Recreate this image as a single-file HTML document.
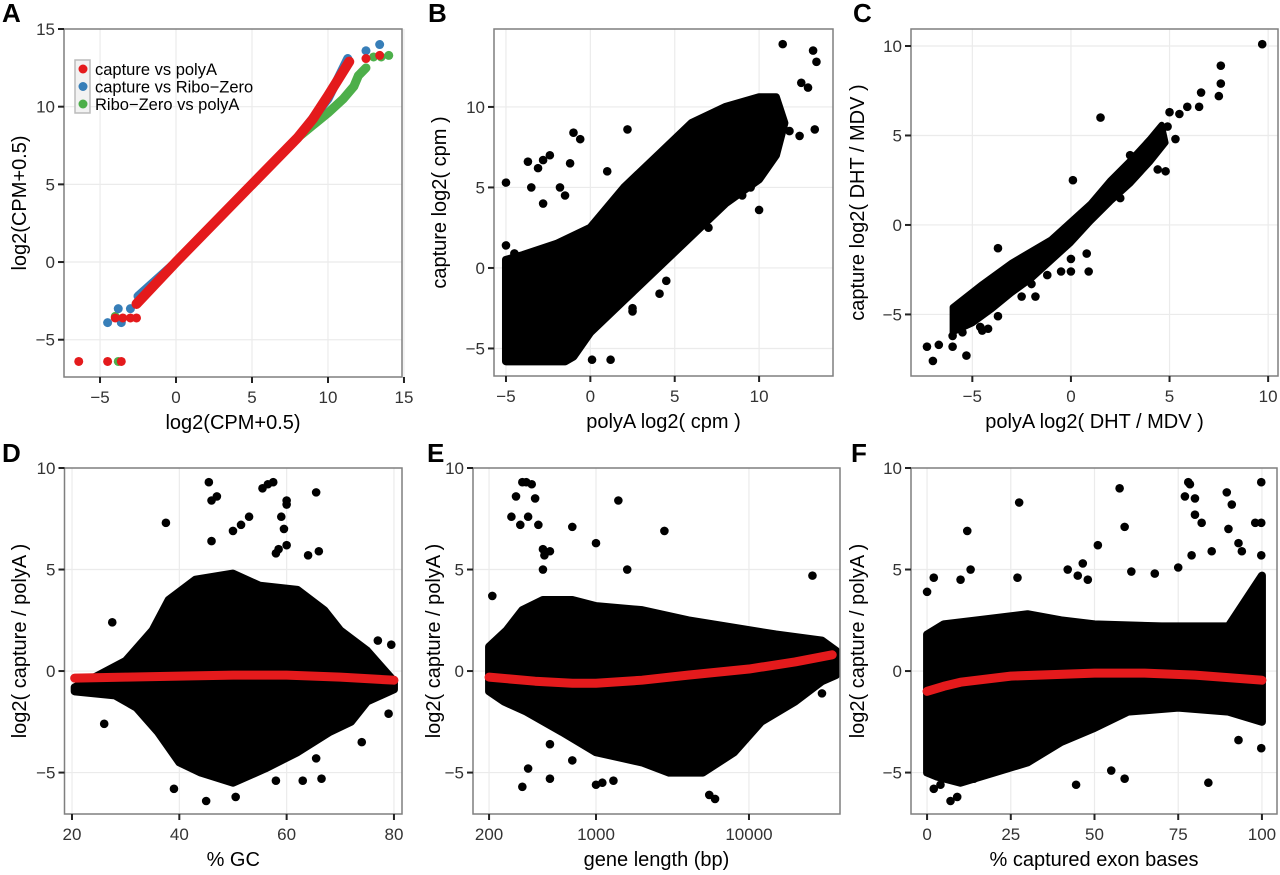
<!DOCTYPE html>
<html><head><meta charset="utf-8"><style>
html,body{margin:0;padding:0;background:#fff;}
svg{display:block;font-family:"Liberation Sans",sans-serif;}
</style></head><body>
<svg id="chart" width="1280" height="875" viewBox="0 0 1280 875" xmlns="http://www.w3.org/2000/svg"></svg>
<script>
// ---------- Panel A data ----------
const aGreenLineX=[-2,0,5,8,9,10,11,11.7,12,12.5];
const aGreenLineY=[-2,0,5,8,8.8,9.6,10.5,11.3,12,12.5];
const aGreenPtX=[-4,-3.8,13,13.5,14];
const aGreenPtY=[-3.5,-6.4,13.2,13.2,13.3];
const aBlueLineX=[-2.5,0,8,10,11.3];
const aBlueLineY=[-2.2,0,8,10.5,13.1];
const aBluePtX=[-4.5,-3.8,-3.6,-3,12.5,13.4];
const aBluePtY=[-3.9,-3,-3.9,-3,13.6,14];
const aRedLineX=[-2.6,0,8,9,10,11.4];
const aRedLineY=[-2.7,0,8,9.2,10.7,12.9];
const aRedPtX=[-6.4,-4.5,-3.6,-4,-3.5,-3,-2.6,-2.6,12.5,13.4];
const aRedPtY=[-6.4,-6.4,-6.4,-3.6,-3.6,-3.6,-3.6,-2.7,13.1,13.3];
const aLegendLabels=["capture vs polyA","capture vs Ribo\u2212Zero","Ribo\u2212Zero vs polyA"];
// ---------- Panel B data ----------
const bCloudX=[-5,-5,-1.5,-1,0,2,5,8,10,11,11.5,11,10,8,6,4,2,0,-2,-4];
const bCloudY=[0.5,-5.8,-5.8,-5.5,-4,-2,1,4,5.5,7,9,10.6,10.6,10,9,7,5,2.5,1.5,0.8];
const bPtX=[11.4,13.2,13.4,12.5,12.9,13.3,12.4,11.8,-5,-3.7,-3.1,-2.8,-2.4,-1,-0.6,2.2,-1.2,-3.5,-1.8,-1.5,-2.8,1,-5,-4.5,0.1,1.2,-0.5,4.1,4.5,2.5,2.5,7,10,9,9.5];
const bPtY=[13.9,13.5,12.8,11.5,11.2,8.6,8.2,8.5,5.3,6.6,6.2,6.7,7,8.4,8,8.6,6.5,5,5,4.5,4,6,1.4,0.9,-5.7,-5.7,-4.5,-1.6,-0.8,-2.5,-2.7,2.5,3.6,4.5,5];
// ---------- Panel C data ----------
const cCloudX=[-6,-4.5,-3,-1,0,1,2,3,4,4.6,4.8,4,3,2,1,0,-1,-2,-3,-4,-5,-6];
const cCloudY=[-4.6,-3.3,-2.1,-0.8,0.2,1.2,2.5,3.6,4.8,5.6,4.6,3.5,2.3,1.3,0.2,-1,-2,-3,-3.8,-4.7,-5.5,-6];
const cPtX=[9.7,7.6,7.6,7.5,6.6,6.5,5.9,1.5,5,5.5,4.9,5.3,3,4.4,4.8,2.5,2.5,0.1,-3.7,0.8,0.9,0,0,-0.5,-1,-2,-1.2,-1.8,-2.5,-3.7,-4.6,-4.2,-4.5,-5.2,-5.7,-5.3,-6.7,-7.3,-7,-6,-6,-5.5,-5.7,-4.3];
const cPtY=[10.1,8.9,7.9,7.2,7.4,6.6,6.6,6,6.3,6.2,5.5,4.8,3.9,3.1,3,2.5,1.5,2.5,-1.3,-1.6,-2.6,-1.9,-2.6,-2.6,-1.2,-3.3,-2.8,-4,-4,-5.1,-5.7,-5.8,-5.9,-4.6,-5.4,-7.3,-6.7,-6.8,-7.6,-6.2,-6.8,-6,-4.5,-4];
// ---------- Panel D data ----------
const dCloudX=[20.5,25,30,35,38,43,50,55,62,67,70,75,80,80,75,72,68,62,56,50,44,40,36,32,28,20.5];
const dCloudY=[-0.8,-0.2,0.5,2,3.5,4.5,4.8,4.2,4,3,2,1,-0.5,-0.9,-1.5,-2.5,-3,-4,-4.8,-5.5,-5,-4.5,-3,-1.8,-1.2,-1];
const dPtX=[45.5,46,47,55.5,56.5,57.5,60,60,65.5,37.5,50,51.5,53,59,59.5,60,58,58.5,64,66,46,27.5,26,79,74,66.5,63,58,45,50.5,39,65.5,77,79.5,76];
const dPtY=[9.3,8.4,8.6,9,9.2,9.3,8.4,8.2,8.8,7.3,6.9,7.2,7.6,7.6,7,6.2,5.8,6,5.7,5.9,6.4,2.4,-2.6,-2.1,-3.5,-5.3,-5.4,-5.4,-6.4,-6.2,-5.8,-4.3,1.5,1.3,0.6];
const dFitX=[20.5,30,40,50,60,70,80];
const dFitY=[-0.35,-0.3,-0.25,-0.2,-0.2,-0.3,-0.45];
// ---------- Panel E data ----------
const eCloudX=[200,200,260,330,450,700,1000,2000,4000,7000,15000,30000,37000,37000,30000,20000,12000,8000,5000,3000,2000,1000,600,350,250];
const eCloudY=[-1,1.2,2,3,3.5,3.5,3.2,3,2.5,2.2,1.8,1.5,1,-0.2,-0.5,-1.5,-2.5,-4,-5,-5,-4.5,-4,-3,-2,-1.5];
const ePtX=[330,350,380,300,280,320,400,420,360,1400,700,2800,1000,450,460,450,500,1600,26000,210,360,500,330,700,1100,1300,5500,6000,1000,30000,500];
const ePtY=[9.3,9.3,9.2,8.6,7.6,7.2,8.5,7.2,7.6,8.4,7.1,6.9,6.3,6,5.7,5,5.9,5,4.7,3.7,-4.8,-5.3,-5.7,-4.4,-5.5,-5.4,-6.1,-6.3,-5.6,-1.1,-3.6];
const eFitX=[200,400,700,1000,2000,4000,10000,20000,35000];
const eFitY=[-0.3,-0.5,-0.6,-0.6,-0.45,-0.2,0.1,0.45,0.8];
// ---------- Panel F data ----------
const fCloudX=[0,0,5,15,30,40,50,70,90,100,100,90,75,60,50,40,30,20,10,3];
const fCloudY=[-5,1.8,2.3,2.5,2.8,2.5,2.3,2.2,2.2,4.7,-2.5,-2,-1.8,-2,-2.8,-3.5,-4.5,-5,-5.5,-5.2];
const fPtX=[0,2,10,12,13,27.5,57.5,59,51,46.5,45,48,42,27,61,68,78,78.5,77,80,80,82,89.5,91,90,99.8,98,99.8,99.8,93,94,85,79,75,44.5,55,59,84,93,99.8,7,9,2,4,14];
const fPtY=[3.9,4.6,4.5,6.9,5,8.3,9,7.1,6.2,5.3,4.7,4.5,5,4.6,4.9,4.8,9.3,9.2,8.6,8.5,7.7,7.3,8.8,8.2,7,9.3,7.3,7.3,5.7,6.3,5.9,5.9,5.7,5.1,-5.6,-4.9,-5.3,-5.5,-3.4,-3.8,-6.4,-6.2,-5.8,-5.6,-5.3];
const fFitX=[0,5,10,25,50,65,80,100];
const fFitY=[-1,-0.75,-0.55,-0.25,-0.1,-0.1,-0.2,-0.45];
// ---------- ticks ----------
const aXTicks=[-5,0,5,10,15], aYTicks=[-5,0,5,10,15];
const bXTicks=[-5,0,5,10], bYTicks=[-5,0,5,10];
const cXTicks=[-5,0,5,10], cYTicks=[-5,0,5,10];
const dXTicks=[20,40,60,80], lowYTicks=[-5,0,5,10];
const eXTicks=[200,1000,10000];
const fXTicks=[0,25,50,75,100];

const NS="http://www.w3.org/2000/svg";
const svg=document.getElementById('chart');
function mk(tag,parent){const e=document.createElementNS(NS,tag);parent.appendChild(e);return e;}
function fmt(v){return v<0?'\u2212'+Math.abs(v):String(v);}

function panel(c){
  const g=mk('g',svg);
  
  
  const tx=v=>{const t=c.xlog?Math.log10(v):v;return c.x0+(t-c.xd[0])/(c.xd[1]-c.xd[0])*(c.x1-c.x0);};
  const ty=v=>c.y1-(v-c.yd[0])/(c.yd[1]-c.yd[0])*(c.y1-c.y0);
  const bg=mk('rect',g);
  
  
  bg.setAttribute('x',c.x0);bg.setAttribute('y',c.y0);bg.setAttribute('width',c.x1-c.x0);bg.setAttribute('height',c.y1-c.y0);bg.setAttribute('fill','#fff');
  c.xt.forEach(v=>{const l=mk('line',g);
    
    
    l.setAttribute('x1',tx(v));l.setAttribute('x2',tx(v));l.setAttribute('y1',c.y0);l.setAttribute('y2',c.y1);l.setAttribute('stroke','#ebebeb');l.setAttribute('stroke-width','1.2');});
  c.yt.forEach(v=>{const l=mk('line',g);
    
    
    l.setAttribute('x1',c.x0);l.setAttribute('x2',c.x1);l.setAttribute('y1',ty(v));l.setAttribute('y2',ty(v));l.setAttribute('stroke','#ebebeb');l.setAttribute('stroke-width','1.2');});
  const pg=mk('g',g);
  
  
  c.draw(pg,tx,ty);
  const br=mk('rect',g);
  
  
  br.setAttribute('x',c.x0);br.setAttribute('y',c.y0);br.setAttribute('width',c.x1-c.x0);br.setAttribute('height',c.y1-c.y0);br.setAttribute('fill','none');br.setAttribute('stroke','#7f7f7f');br.setAttribute('stroke-width','1.5');
  c.xt.forEach(v=>{const l=mk('line',g);
    
    
    l.setAttribute('x1',tx(v));l.setAttribute('x2',tx(v));l.setAttribute('y1',c.y1);l.setAttribute('y2',c.y1+6);l.setAttribute('stroke','#222');l.setAttribute('stroke-width','2');
    const t=mk('text',g);
    
    
    t.setAttribute('x',tx(v));t.setAttribute('y',c.y1+26);t.setAttribute('text-anchor','middle');t.setAttribute('font-size','17');t.setAttribute('fill','#333');t.textContent=fmt(v);});
  c.yt.forEach(v=>{const l=mk('line',g);
    
    
    l.setAttribute('x1',c.x0-6);l.setAttribute('x2',c.x0);l.setAttribute('y1',ty(v));l.setAttribute('y2',ty(v));l.setAttribute('stroke','#222');l.setAttribute('stroke-width','2');
    const t=mk('text',g);
    
    
    t.setAttribute('x',c.x0-9);t.setAttribute('y',ty(v)+6);t.setAttribute('text-anchor','end');t.setAttribute('font-size','17');t.setAttribute('fill','#333');t.textContent=fmt(v);});
  const xtl=mk('text',g);
  
  
  xtl.setAttribute('x',(c.x0+c.x1)/2);xtl.setAttribute('y',c.y1+52);xtl.setAttribute('text-anchor','middle');xtl.setAttribute('font-size','20');xtl.textContent=c.xtitle;
  const ytl=mk('text',g);
  
  
  const yc=(c.y0+c.y1)/2;
  ytl.setAttribute('x',c.ytx);ytl.setAttribute('y',yc);ytl.setAttribute('text-anchor','middle');ytl.setAttribute('font-size','20');ytl.setAttribute('transform','rotate(-90 '+c.ytx+' '+yc+')');ytl.textContent=c.ytitle;
  const lt=mk('text',g);
  
  
  lt.setAttribute('x',c.lx);lt.setAttribute('y',c.ly);lt.setAttribute('font-size','26');lt.setAttribute('font-weight','bold');lt.textContent=c.letter;
}
function dots(g,xs,ys,tx,ty,col,r,name){xs.forEach((x,i)=>{const d=mk('circle',g);
  
  
  d.setAttribute('cx',tx(x));d.setAttribute('cy',ty(ys[i]));d.setAttribute('r',r);d.setAttribute('fill',col);});}
function line(g,xs,ys,tx,ty,col,w,name){const p=mk('polyline',g);
  
  
  p.setAttribute('points',xs.map((x,i)=>tx(x)+','+ty(ys[i])).join(' '));p.setAttribute('fill','none');p.setAttribute('stroke',col);p.setAttribute('stroke-width',w);p.setAttribute('stroke-linecap','round');p.setAttribute('stroke-linejoin','round');}
function cloud(g,xs,ys,tx,ty,name,sw){const p=mk('polygon',g);
  
  
  p.setAttribute('points',xs.map((x,i)=>tx(x)+','+ty(ys[i])).join(' '));p.setAttribute('fill','#000');p.setAttribute('stroke','#000');p.setAttribute('stroke-width',sw||8);p.setAttribute('stroke-linejoin','round');}
const RED='#e41a1c',BLUE='#377eb8',GREEN='#4daf4a';
const LOWY=[-7.04,10];

panel({name:'panel-a',x0:64,x1:402,y0:29,y1:377,xd:[-7.37,14.87],yd:[-7.4,15],xt:aXTicks,yt:aYTicks,
  xtitle:'log2(CPM+0.5)',ytitle:'log2(CPM+0.5)',ytx:26,letter:'A',lx:2,ly:22,
  draw:(g,tx,ty)=>{
    line(g,aGreenLineX,aGreenLineY,tx,ty,GREEN,9,'green-series-line');dots(g,aGreenPtX,aGreenPtY,tx,ty,GREEN,4.5,'green-point');
    line(g,aBlueLineX,aBlueLineY,tx,ty,BLUE,9,'blue-series-line');dots(g,aBluePtX,aBluePtY,tx,ty,BLUE,4.5,'blue-point');
    line(g,aRedLineX,aRedLineY,tx,ty,RED,10,'red-series-line');dots(g,aRedPtX,aRedPtY,tx,ty,RED,4.5,'red-point');
    const lg=mk('g',g);
    
    
    const box=mk('rect',lg);
    
    
    box.setAttribute('x',75);box.setAttribute('y',60);box.setAttribute('width',15);box.setAttribute('height',53);box.setAttribute('fill','#f2f2f2');box.setAttribute('stroke','#bbb');box.setAttribute('stroke-width','1.5');
    [RED,BLUE,GREEN].forEach((col,i)=>{const d=mk('circle',lg);
      
      
      d.setAttribute('cx',83);d.setAttribute('cy',69+i*17.5);d.setAttribute('r',4.5);d.setAttribute('fill',col);
      const t=mk('text',lg);
      
      
      t.setAttribute('x',95);t.setAttribute('y',75+i*17.5);t.setAttribute('font-size','16.5');t.textContent=aLegendLabels[i];});
  }});
panel({name:'panel-b',x0:494,x1:833,y0:29,y1:376,xd:[-5.71,14.38],yd:[-6.71,14.84],xt:bXTicks,yt:bYTicks,
  xtitle:'polyA log2( cpm )',ytitle:'capture log2( cpm )',ytx:446,letter:'B',lx:428,ly:22,
  draw:(g,tx,ty)=>{cloud(g,bCloudX,bCloudY,tx,ty,'scatter-cloud');dots(g,bPtX,bPtY,tx,ty,'#000',4.3,'scatter-point');}});
panel({name:'panel-c',x0:911,x1:1278,y0:29,y1:376,xd:[-8.11,10.5],yd:[-8.44,10.95],xt:cXTicks,yt:cYTicks,
  xtitle:'polyA log2( DHT / MDV )',ytitle:'capture log2( DHT / MDV )',ytx:864,letter:'C',lx:853,ly:22,
  draw:(g,tx,ty)=>{cloud(g,cCloudX,cCloudY,tx,ty,'scatter-cloud',6);dots(g,cPtX,cPtY,tx,ty,'#000',4.3,'scatter-point');}});
panel({name:'panel-d',x0:64.5,x1:402,y0:468,y1:814,xd:[18.6,81.5],yd:LOWY,xt:dXTicks,yt:lowYTicks,
  xtitle:'% GC',ytitle:'log2( capture / polyA )',ytx:26,letter:'D',lx:2,ly:462,
  draw:(g,tx,ty)=>{cloud(g,dCloudX,dCloudY,tx,ty,'scatter-cloud');dots(g,dPtX,dPtY,tx,ty,'#000',4.3,'scatter-point');line(g,dFitX,dFitY,tx,ty,RED,9,'loess-fit');}});
panel({name:'panel-e',x0:473,x1:840,y0:468,y1:814,xlog:true,xd:[2.196,4.595],yd:LOWY,xt:eXTicks,yt:lowYTicks,
  xtitle:'gene length (bp)',ytitle:'log2( capture / polyA )',ytx:440,letter:'E',lx:427,ly:462,
  draw:(g,tx,ty)=>{cloud(g,eCloudX,eCloudY,tx,ty,'scatter-cloud');dots(g,ePtX,ePtY,tx,ty,'#000',4.3,'scatter-point');line(g,eFitX,eFitY,tx,ty,RED,9,'loess-fit');}});
panel({name:'panel-f',x0:911,x1:1277,y0:468,y1:814,xd:[-4.8,104.5],yd:LOWY,xt:fXTicks,yt:lowYTicks,
  xtitle:'% captured exon bases',ytitle:'log2( capture / polyA )',ytx:864,letter:'F',lx:851,ly:462,
  draw:(g,tx,ty)=>{cloud(g,fCloudX,fCloudY,tx,ty,'scatter-cloud');dots(g,fPtX,fPtY,tx,ty,'#000',4.3,'scatter-point');line(g,fFitX,fFitY,tx,ty,RED,9,'loess-fit');}});
</script>
</body></html>
